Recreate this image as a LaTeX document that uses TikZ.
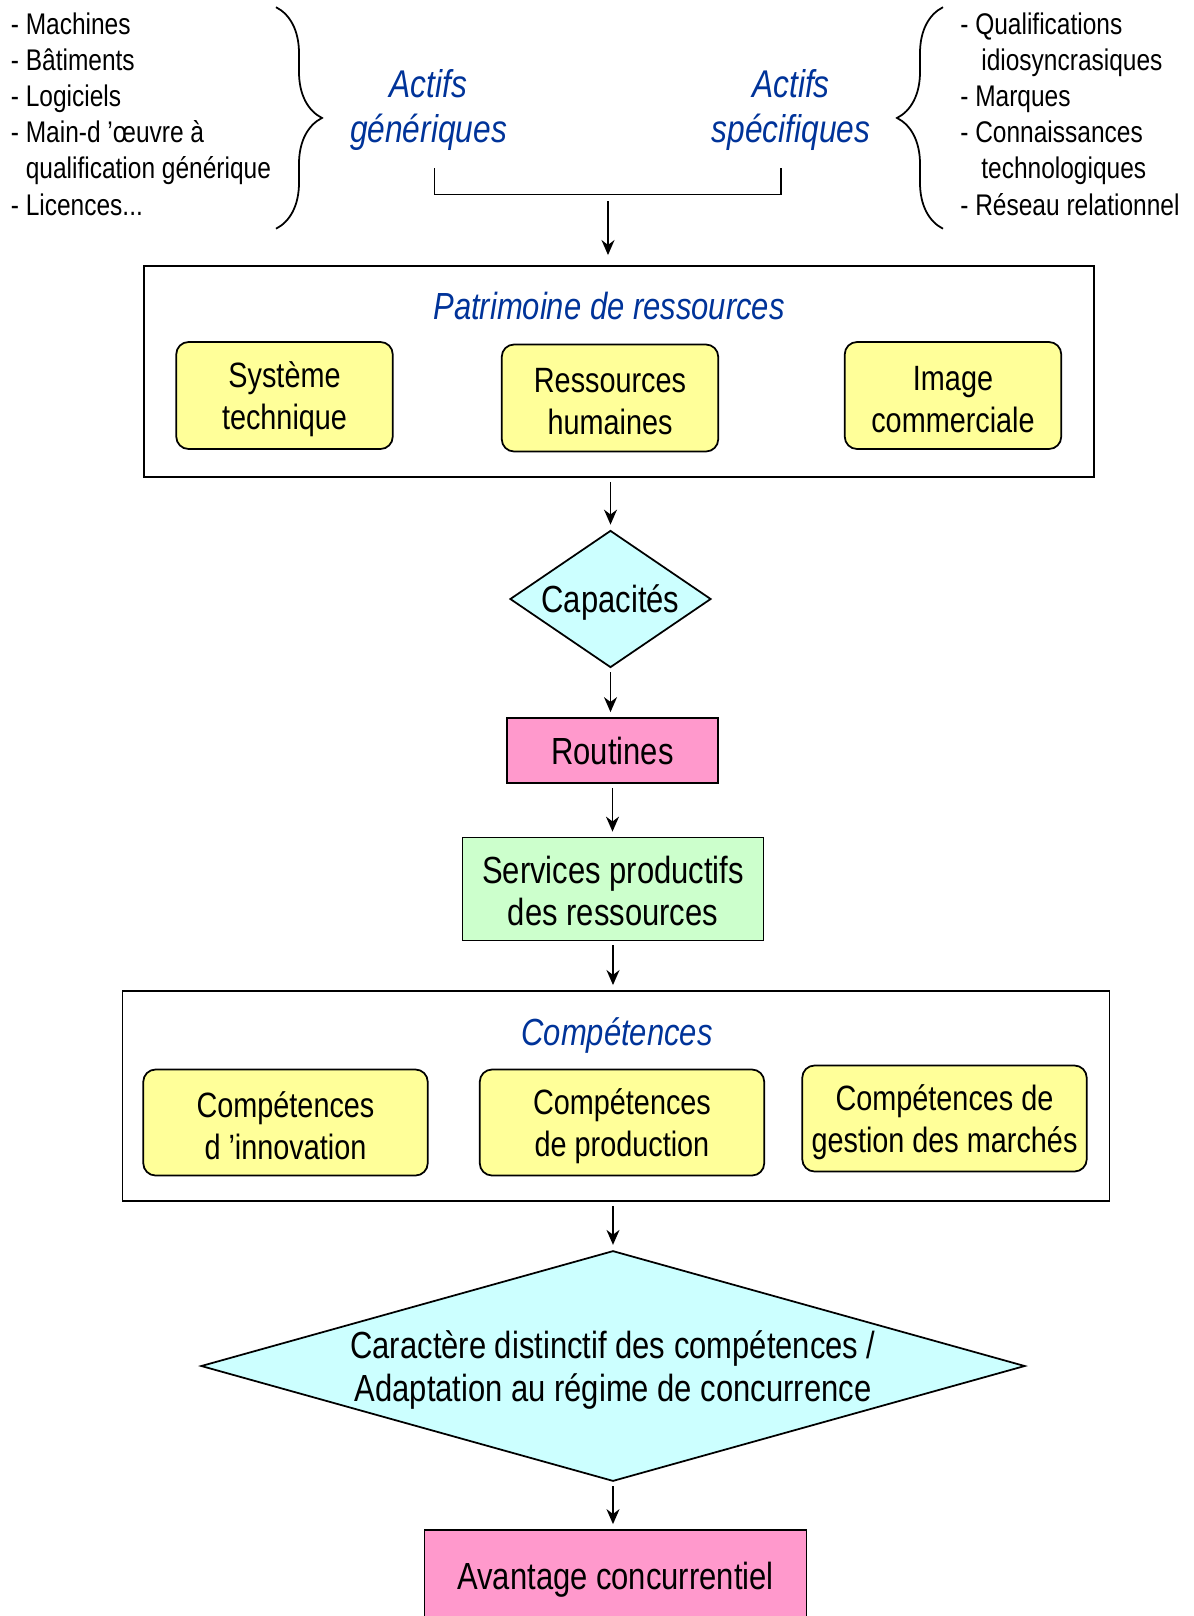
\documentclass[tikz,border=0pt]{standalone}
\usepackage{fontspec}
\setmainfont{Liberation Sans}[FakeStretch=0.82]
\usetikzlibrary{arrows.meta,positioning,calc,decorations.pathreplacing,shapes.geometric}
\definecolor{boxyellow}{HTML}{FFFF99}
\definecolor{boxcyan}{HTML}{CCFFFF}
\definecolor{boxpink}{HTML}{FF99CC}
\definecolor{boxgreen}{HTML}{CCFFCC}
\definecolor{titleblue}{HTML}{003399}
% line set without its descender depth
\newcommand\nodepth[1]{\raisebox{0pt}[\height][0pt]{#1}}
% extra room above a first line
\newcommand\toproom[1]{\rule{0pt}{#1}}

\begin{document}
\begin{tikzpicture}[
    yelbox/.style={draw, rounded corners=7pt, fill=boxyellow, align=center, inner sep=0pt, line width=1pt, font=\fontsize{20}{24}\selectfont},
    bigframe/.style={draw, line width=1.1pt, inner sep=0pt},
    flatbox/.style={draw, align=center, inner sep=0pt, line width=1pt, font=\fontsize{21.5}{24}\selectfont},
    decision/.style={diamond, draw, fill=boxcyan, align=center, inner sep=0pt, line width=1pt, font=\fontsize{21.5}{24}\selectfont},
    boxtitle/.style={inner sep=0pt, text=titleblue, font=\fontsize{21.5}{25}\selectfont\itshape},
    actif/.style={align=center, inner sep=0pt, text=titleblue, font=\fontsize{22}{25.5}\selectfont\itshape},
    itemlist/.style={align=left, anchor=north west, inner sep=0pt, font=\fontsize{17}{20.6}\selectfont},
    brc/.style={decorate, decoration={brace, amplitude=0.92cm}, line width=1pt},
    arr/.style={-{Stealth[length=0.3cm, width=0.26cm]}, line width=1pt, black, shorten <=0.08cm, shorten >=0.1cm},
]
\useasboundingbox (0,0) rectangle (23.88,-32.32);

% top: the two kinds of assets
\node[itemlist] (genlist) at (0.21,-0.24) {- Machines\\- Bâtiments\\- Logiciels\\- Main-d ’œuvre à\\\hphantom{- }qualification générique\\- Licences...};
\node[itemlist] (speclist) at (19.2,-0.24) {- Qualifications\\\hspace*{0.42cm}idiosyncrasiques\\- Marques\\- Connaissances\\\hspace*{0.42cm}technologiques\\- Réseau relationnel};
\draw[brc] (5.52,-0.144) -- (5.52,-4.574);
\draw[brc] (18.86,-4.574) -- (18.86,-0.144);

\node[actif] (gen) at (8.57,-2.12) {Actifs\\\nodepth{génériques}};
\node[actif] (spec) at (15.82,-2.12) {Actifs\\\nodepth{spécifiques}};

\coordinate (bl) at (8.69,-3.36);
\coordinate (br) at (15.62,-3.36);
\draw[line width=1pt] (bl) -- ++(0,-0.53) -| (br);
\coordinate (join) at (12.16,-4.02);

% resources
\node[bigframe, minimum width=19.0cm, minimum height=4.22cm] (patr) at (12.38,-7.43) {};
\node[boxtitle] (patrtitle) at (12.18,-6.12) {Patrimoine de ressources};
\node[yelbox, minimum width=4.33cm, minimum height=2.14cm] (systech) at (5.69,-7.91) {Système\\\nodepth{technique}};
\node[yelbox, minimum width=4.33cm, minimum height=2.14cm] (rh) at (12.20,-7.96) {\toproom{0.9em}Ressources\\humaines};
\node[yelbox, minimum width=4.33cm, minimum height=2.14cm] (imgcom) at (19.06,-7.91) {\toproom{0.9em}Image\\commerciale};

% middle chain
\node[decision, minimum width=4.02cm, minimum height=2.74cm, aspect=1.47] (capa) at (12.21,-11.98) {\nodepth{Capacités}};
\node[flatbox, fill=boxpink, minimum width=4.22cm, minimum height=1.3cm] (rout) at (12.25,-15.01) {Routines};
\node[flatbox, fill=boxgreen, minimum width=6.02cm, minimum height=2.06cm] (serv) at (12.26,-17.78) {\toproom{0.85em}Services productifs\\des ressources};

% competences
\node[bigframe, minimum width=19.74cm, minimum height=4.20cm] (comp) at (12.32,-21.92) {};
\node[boxtitle] (comptitle) at (12.34,-20.71) {Compétences};
\node[yelbox, minimum width=5.69cm, minimum height=2.12cm] (innov) at (5.71,-22.45) {\toproom{0.9em}Compétences\\d ’innovation};
\node[yelbox, minimum width=5.69cm, minimum height=2.12cm] (prod) at (12.44,-22.45) {Compétences\\\nodepth{de production}};
\node[yelbox, minimum width=5.69cm, minimum height=2.12cm] (gest) at (18.89,-22.37) {Compétences de\\\nodepth{gestion des marchés}};

% bottom
\node[decision, minimum width=16.48cm, minimum height=4.61cm, aspect=3.57] (distinct) at (12.26,-27.32) {Caractère distinctif des compétences /\\\nodepth{Adaptation au régime de concurrence}};
\node[flatbox, fill=boxpink, minimum width=7.64cm, minimum height=1.84cm] (avant) at (12.31,-31.52) {\nodepth{Avantage concurrentiel}};

\draw[arr, shorten <=0pt, shorten >=0.2cm] (join) -- (join |- patr.north);
\draw[arr] (patr.south -| capa) -- (capa.north);
\draw[arr] (capa.south) -- (capa.south |- rout.north);
\draw[arr] (rout.south) -- (rout.south |- serv.north);
\draw[arr] (serv.south) -- (serv.south |- comp.north);
\draw[arr] (comp.south -| distinct) -- (distinct.north);
\draw[arr] (distinct.south) -- (distinct.south |- avant.north);
\end{tikzpicture}
\end{document}
